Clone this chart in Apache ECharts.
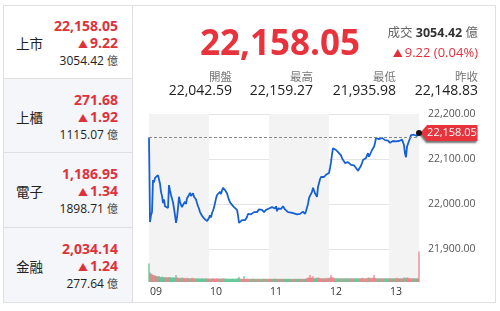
<!DOCTYPE html>
<html><head><meta charset="utf-8">
<script src="https://cdn.jsdelivr.net/npm/echarts@6/dist/echarts.min.js"></script>
<style>
html,body{margin:0;padding:0;background:#fff;width:500px;height:311px;overflow:hidden;font-family:"Open Sans","Noto Sans CJK TC",sans-serif;}
#chart{position:absolute;left:0;top:0;width:500px;height:311px;}
.abs{position:absolute;white-space:nowrap;}
#outer{position:absolute;left:3px;top:5px;width:493px;height:298px;border:1px solid #e0e0e0;box-sizing:border-box;pointer-events:none;}
.cell{position:absolute;left:3px;width:130px;box-sizing:border-box;border-right:1px solid #e0e0e0;border-bottom:1px solid #e0e0e0;}
.red{color:#e0313b;}
.r{text-align:right;}
.tri{font-size:10px;margin-right:2px;}
</style></head><body>
<div id="chart"></div>
<div id="panel"></div>
<div id="outer"></div>
<script>
// ---- data ----
const marketNames = ['上市','上櫃','電子','金融'];
const marketIndex = ['22,158.05','271.68','1,186.95','2,034.14'];
const marketChange = ['9.22','1.92','1.34','1.24'];
const marketTurnover = ['3054.42','1115.07','1898.71','277.64'];
const lastPrice = 22158.05;
const prevClose = 22148.83;
const turnover = '3054.42';
const changeText = '9.22 (0.04%)';
const statNames = ['開盤','最高','最低','昨收'];
const statValues = ['22,042.59','22,159.27','21,935.98','22,148.83'];
const hourLabels = ['09','10','11','12','13'];
const yTicks = [21900, 22000, 22100, 22200];
// one price per minute from 09:00 to 13:30
const prices = [
22148,21960,21975,21982,22053,22048,22058,22055,22062,22064,
22060,22045,22027,22018,22002,22010,21995,21993,21998,21991,
22042,22030,22020,22016,22004,21990,21975,21958,21970,21991,
22016,22005,21998,21993,21998,22002,22005,22000,22013,22010,
22020,22025,22018,22020,22024,22016,22018,22010,22002,21995,
21990,21982,21978,21974,21971,21968,21964,21966,21962,21965,
21969,21975,21970,21980,21985,21992,22002,22012,22020,22018,
22024,22027,22022,22030,22036,22032,22031,22028,22024,22016,
22009,22004,22002,21998,21995,21993,21991,21990,21987,21975,
21958,21962,21960,21964,21966,21960,21964,21968,21971,21978,
21982,21980,21977,21976,21979,21982,21980,21985,21982,21984,
21988,21986,21985,21987,21984,21982,21982,21987,21985,21987,
21990,21988,21991,21993,21990,21991,21990,21995,21984,21990,
21993,21991,21989,21993,21995,21991,21988,21987,21984,21982,
21980,21983,21981,21978,21982,21979,21983,21980,21977,21981,
21980,21978,21982,21979,21983,21979,21978,21984,21987,22000,
22013,22018,22022,22027,22036,22030,22024,22020,22016,22038,
22046,22055,22060,22058,22062,22060,22063,22065,22067,22065,
22069,22080,22093,22110,22124,22122,22127,22120,22116,22118,
22113,22110,22108,22102,22105,22098,22091,22095,22090,22093,
22090,22092,22087,22090,22091,22086,22083,22080,22077,22074,
22071,22078,22085,22091,22098,22095,22100,22102,22108,22113,
22105,22110,22115,22120,22124,22127,22135,22147,22145,22149,
22144,22146,22143,22147,22149,22145,22142,22140,22138,22141,
22137,22136,22139,22137,22140,22138,22136,22139,22142,22138,
22140,22142,22141,22143,22144,22131,22112,22104,22127,22134,
22140,22146,22153,22151,22156,22154,22152,22153,22151,22154,
22158.05
];
const volumes = [
58,30,26,24,22,20,21,19,18,17,
19,16,15,17,14,16,15,14,15,13,
16,15,14,13,15,14,13,22,14,13,
12,13,12,14,12,13,11,12,13,12,
11,12,11,13,12,11,12,10,11,12,
11,10,11,12,10,11,10,12,11,10,
11,10,11,10,12,11,10,11,12,10,
11,10,11,10,12,11,10,11,10,9,
11,10,9,11,10,10,9,11,10,12,
16,11,10,9,10,19,10,9,11,10,
9,10,9,10,11,9,10,9,10,9,
10,9,10,9,10,11,9,10,9,10,
9,10,9,10,9,10,11,9,10,9,
10,9,10,9,10,9,10,9,10,9,
10,9,10,9,9,10,9,10,9,10,
9,10,9,10,9,10,9,11,12,14,
13,22,14,13,18,12,11,13,12,14,
13,12,11,12,11,12,11,12,11,13,
12,14,22,15,14,13,12,11,12,11,
12,11,12,11,12,11,12,11,12,11,
12,11,12,11,12,11,12,11,12,11,
12,11,12,13,12,11,12,11,12,13,
14,12,13,12,13,22,13,12,11,12,
11,12,11,12,11,12,11,12,11,12,
11,12,11,12,11,12,11,12,13,12,
11,12,11,12,11,14,13,12,14,13,
12,11,12,11,12,11,12,11,12,11,
95
];

// ---- HTML panels ----
const panel = document.getElementById('panel');
let html = '';
const tops = [5,79,153,228], hs = [74,74,75,75];
marketNames.forEach((n,i)=>{
  const bg = i===0 ? '#fff' : '#f5f6f9';
  html += `<div class="cell" style="top:${tops[i]}px;height:${hs[i]}px;background:${bg}">
    <div class="abs" style="left:13px;top:30px;line-height:18px;font-size:13.5px;color:#222;">${n}</div>
    <div class="abs r red" style="right:14px;top:12px;line-height:18px;font-size:14px;font-weight:bold;">${marketIndex[i]}</div>
    <div class="abs r red" style="right:14px;top:29px;line-height:18px;font-size:14px;font-weight:bold;"><span class="tri">▲</span>${marketChange[i]}</div>
    <div class="abs r" style="right:14px;top:48px;line-height:16px;font-size:12px;color:#222;">${marketTurnover[i]} <span style="font-size:11px;color:#444">億</span></div>
  </div>`;
});
html += `<div class="abs r red" style="right:140px;top:21px;line-height:42px;font-size:35px;font-weight:bold;color:#e8333c;">${marketIndex[0]}</div>`;
html += `<div class="abs r" style="right:22px;top:25px;line-height:16px;font-size:12.5px;color:#666;">成交 <b style="color:#333">${turnover}</b> 億</div>`;
html += `<div class="abs r red" style="right:22px;top:44px;line-height:16px;font-size:13px;"><span class="tri">▲</span>${changeText}</div>`;
const statRights = [268,187,104,22];
statNames.forEach((n,i)=>{
  html += `<div class="abs r" style="right:${statRights[i]}px;top:69px;line-height:16px;font-size:11.5px;color:#777;">${n}</div>`;
  html += `<div class="abs r" style="right:${statRights[i]}px;top:81px;line-height:17px;font-size:14px;color:#222;">${statValues[i]}</div>`;
});
panel.innerHTML = html;

// ---- chart ----
const fmt = v => v.toLocaleString('en-US',{minimumFractionDigits:2,maximumFractionDigits:2});
const minutes = prices.map((p,i)=>i);
const priceData = minutes.map((m,i)=>[m, prices[i]]);
const volData = volumes.map((v,i)=>{
  const prev = i===0 ? prevClose : prices[i-1];
  const up = prices[i] >= prev;
  return {value:[minutes[i], v], itemStyle:{color: up ? '#ec5f68' : '#3db57c'}};
});
const chart = echarts.init(document.getElementById('chart'), null, {renderer:'canvas'});
chart.setOption({
  animation:false,
  grid:[
    {left:149, right:81, top:114, height:135},
    {left:149, right:81, top:114, height:168}
  ],
  xAxis:[
    {gridIndex:0, type:'value', min:0, max:270, interval:60, show:false},
    {gridIndex:1, type:'value', min:0, max:270, interval:60,
      axisLine:{show:false}, axisTick:{show:false}, splitLine:{show:false},
      splitArea:{show:true, areaStyle:{color:['#f3f3f3','rgba(255,255,255,0)']}},
      axisLabel:{formatter:v=> (v%60===0 && hourLabels[v/60]) ? hourLabels[v/60] : '', align:'left', margin:5, color:'#333', fontSize:10.5, fontFamily:'Open Sans', padding:[0,0,0,1]}}
  ],
  yAxis:[
    {gridIndex:0, type:'value', position:'right', min:yTicks[0], max:yTicks[yTicks.length-1], interval:100,
      axisLine:{show:false}, axisTick:{show:false},
      splitLine:{lineStyle:{color:'#e4e4e4'}},
      axisLabel:{margin:9, color:'#555', fontSize:10.5, fontFamily:'Open Sans', formatter:v=>fmt(v)}},
    {gridIndex:1, type:'value', min:0, max:525, show:false}
  ],
  series:[
    {type:'bar', xAxisIndex:1, yAxisIndex:1, data:volData, barWidth:1, z:1},
    {type:'line', xAxisIndex:0, yAxisIndex:0, data:priceData, showSymbol:false, z:3,
      lineStyle:{color:'#1560d6', width:1.8},
      markLine:{silent:true, symbol:'none', label:{show:false},
        lineStyle:{color:'#8a8a8a', type:[3,2], width:1}, data:[{yAxis:prevClose}]},
      markPoint:{silent:true, data:[
        {coord:[270, lastPrice], symbol:'path://M0,8L7,0L60,0L60,16L7,16Z', symbolSize:[57,16], symbolOffset:[30,0],
          itemStyle:{color:'#e8323c', shadowColor:'rgba(0,0,0,0.55)', shadowBlur:2, shadowOffsetX:-1, shadowOffsetY:2},
          label:{show:true, formatter:fmt(lastPrice), color:'#fff', fontSize:11, fontFamily:'Open Sans', offset:[3,0]}},
        {coord:[270, lastPrice], symbol:'circle', symbolSize:6, itemStyle:{color:'#111'}, label:{show:false}}
      ]}
    }
  ]
});
</script>
</body></html>
